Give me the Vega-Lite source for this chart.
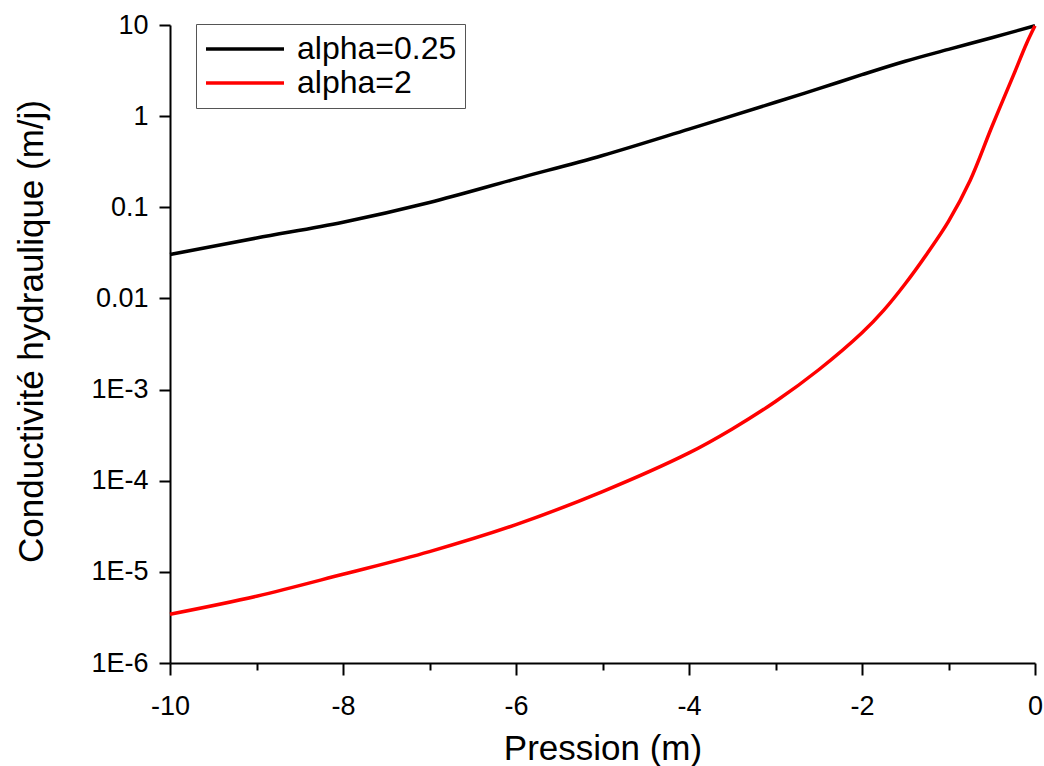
{
  "$schema": "https://vega.github.io/schema/vega-lite/v6.json",
  "width": 865,
  "height": 638,
  "autosize": {"type": "none"},
  "padding": {"left": 170, "top": 25, "right": 9, "bottom": 103},
  "background": "white",
  "config": {
    "view": {"stroke": null},
    "font": "Liberation Sans",
    "axis": {
      "grid": false,
      "domainColor": "black",
      "domainWidth": 2,
      "tickColor": "black",
      "tickWidth": 2,
      "labelColor": "black",
      "titleColor": "black",
      "labelFont": "Liberation Sans",
      "titleFont": "Liberation Sans",
      "labelFontSize": 27,
      "titleFontWeight": "normal"
    }
  },
  "data": {
    "values": [
      {"h": -10, "K": 0.0303, "s": "alpha=0.25"},
      {"h": -9, "K": 0.046, "s": "alpha=0.25"},
      {"h": -8, "K": 0.0686, "s": "alpha=0.25"},
      {"h": -7, "K": 0.113, "s": "alpha=0.25"},
      {"h": -6, "K": 0.205, "s": "alpha=0.25"},
      {"h": -5, "K": 0.37, "s": "alpha=0.25"},
      {"h": -4, "K": 0.72, "s": "alpha=0.25"},
      {"h": -3, "K": 1.42, "s": "alpha=0.25"},
      {"h": -2.5, "K": 2.0, "s": "alpha=0.25"},
      {"h": -2, "K": 2.85, "s": "alpha=0.25"},
      {"h": -1.5, "K": 4.0, "s": "alpha=0.25"},
      {"h": -1, "K": 5.4, "s": "alpha=0.25"},
      {"h": -0.5, "K": 7.25, "s": "alpha=0.25"},
      {"h": 0, "K": 9.8, "s": "alpha=0.25"},
      {"h": -10, "K": 0.00000343, "s": "alpha=2"},
      {"h": -9, "K": 0.0000054, "s": "alpha=2"},
      {"h": -8, "K": 0.0000094, "s": "alpha=2"},
      {"h": -7, "K": 0.0000167, "s": "alpha=2"},
      {"h": -6, "K": 0.000033, "s": "alpha=2"},
      {"h": -5, "K": 0.000076, "s": "alpha=2"},
      {"h": -4, "K": 0.000202, "s": "alpha=2"},
      {"h": -3.5, "K": 0.00037, "s": "alpha=2"},
      {"h": -3, "K": 0.00074, "s": "alpha=2"},
      {"h": -2.5, "K": 0.00165, "s": "alpha=2"},
      {"h": -2, "K": 0.0042, "s": "alpha=2"},
      {"h": -1.75, "K": 0.0074, "s": "alpha=2"},
      {"h": -1.5, "K": 0.0145, "s": "alpha=2"},
      {"h": -1.25, "K": 0.0308, "s": "alpha=2"},
      {"h": -1, "K": 0.07, "s": "alpha=2"},
      {"h": -0.75, "K": 0.197, "s": "alpha=2"},
      {"h": -0.5, "K": 0.76, "s": "alpha=2"},
      {"h": -0.25, "K": 2.8, "s": "alpha=2"},
      {"h": -0.1, "K": 6.2, "s": "alpha=2"},
      {"h": 0, "K": 9.8, "s": "alpha=2"}
    ]
  },
  "mark": {"type": "line", "strokeWidth": 3.5, "interpolate": "catmull-rom"},
  "encoding": {
    "x": {
      "field": "h",
      "type": "quantitative",
      "scale": {"domain": [-10, 0], "nice": false, "zero": false},
      "axis": {
        "title": "Pression (m)",
        "titleFontSize": 35,
        "titleBaseline": "alphabetic",
        "titleY": 96,
        "values": [-10, -9, -8, -7, -6, -5, -4, -3, -2, -1, 0],
        "labelExpr": "datum.value % 2 == 0 ? '' + datum.value : ''",
        "tickSize": {"condition": {"test": "datum.value % 2 == 0", "value": 12}, "value": 7},
        "labelPadding": 18,
        "labelFlush": false,
        "labelOverlap": false
      }
    },
    "y": {
      "field": "K",
      "type": "quantitative",
      "scale": {"type": "log", "domain": [0.000001, 10], "nice": false},
      "axis": {
        "title": "Conductivité hydraulique (m/j)",
        "titleFontSize": 35,
        "titleBaseline": "alphabetic",
        "titleAngle": -90,
        "titleX": -128,
        "titleY": 306,
        "values": [0.000001, 0.00001, 0.0001, 0.001, 0.01, 0.1, 1, 10],
        "labelExpr": "datum.value >= 0.01 ? '' + datum.value : '1E' + round(log(datum.value) / LN10)",
        "tickSize": 11,
        "labelPadding": 11,
        "labelFlush": false,
        "labelOverlap": false
      }
    },
    "color": {
      "field": "s",
      "type": "nominal",
      "scale": {"domain": ["alpha=0.25", "alpha=2"], "range": ["#000000", "#ff0000"]},
      "legend": {
        "title": null,
        "orient": "none",
        "legendX": 26,
        "legendY": -1,
        "symbolType": "stroke",
        "symbolSize": 6084,
        "symbolStrokeWidth": 3.5,
        "clipHeight": 34,
        "rowPadding": 0,
        "padding": 8,
        "labelOffset": 11,
        "labelFont": "Liberation Sans",
        "labelFontSize": 32,
        "labelColor": "black",
        "labelLimit": 400,
        "strokeColor": "#555555",
        "fillColor": "white"
      }
    }
  }
}
